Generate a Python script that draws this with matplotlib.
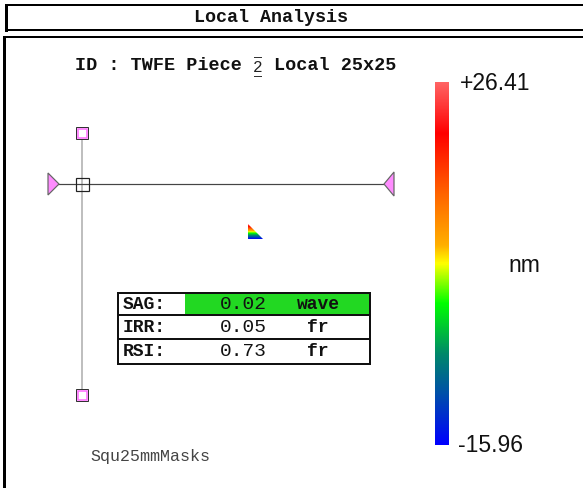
import numpy as np
import matplotlib
matplotlib.use("Agg")
import matplotlib.pyplot as plt
from matplotlib.patches import Rectangle, Polygon
from matplotlib.colors import LinearSegmentedColormap

# ---------------- data ----------------
panel_title = "Local Analysis"
id_prefix = "ID : TWFE Piece "
piece_number = "2"
id_suffix = " Local 25x25"
mask_name = "Squ25mmMasks"
metric_labels = ["SAG:", "IRR:", "RSI:"]
metric_values = [0.02, 0.05, 0.73]
metric_units = ["wave", "fr", "fr"]
highlight_row = 0
scale_max = 26.41
scale_min = -15.96
scale_unit = "nm"

# ---------------- figure ----------------
W, H = 583, 488
fig = plt.figure(figsize=(W / 100, H / 100), dpi=100)
ax = fig.add_axes([0, 0, 1, 1])
ax.set_xlim(0, W)
ax.set_ylim(H, 0)
ax.axis("off")

MONO = "Liberation Mono"
SANS = "Liberation Sans"
px = 0.72  # one pixel in points

# title box
ax.add_patch(Rectangle((6, 5), 600, 25, fill=False, ec="black", lw=2 * px))
ax.plot([6, 6], [5, 30], color="black", lw=3 * px)
ax.text(271, 18, panel_title, family=MONO, weight="bold", fontsize=13.2,
        ha="center", va="center", color="#111111")

# main box
ax.add_patch(Rectangle((4, 37), 600, 500, fill=False, ec="black", lw=2 * px))
ax.plot([4, 4], [37, 488], color="black", lw=3 * px)

# ID line
id_fs = 13.3
charw = 0.6 * id_fs * 100 / 72
x0 = 75
ax.text(x0, 66, id_prefix.rstrip(), family=MONO, weight="bold", fontsize=id_fs,
        ha="left", va="center", color="#111111")
xp = x0 + len(id_prefix) * charw
ax.text(xp + charw / 2, 67, piece_number, family=MONO, fontsize=11.5,
        ha="center", va="center", color="#222222")
ax.plot([xp + 2, xp + charw - 2], [57, 57], color="#333333", lw=1 * px)
ax.plot([xp + 2, xp + charw - 2], [76, 76], color="#333333", lw=1 * px)
xs = xp + (len(piece_number) + 1) * charw
ax.text(xs, 66, id_suffix.strip(), family=MONO, weight="bold", fontsize=id_fs,
        ha="left", va="center", color="#111111")

# cross-hair guides
vx, vy0, vy1 = 82, 133, 395
hy, hx0, hx1 = 184, 58, 386
ax.plot([vx, vx], [vy0, vy1], color="#aaaaaa", lw=1.5 * px, zorder=2)
ax.plot([hx0, hx1], [hy, hy], color="#444444", lw=1.2 * px, zorder=2)

def handle(cx, cy):
    ax.add_patch(Rectangle((cx - 6, cy - 6), 12, 12, fc="white", ec="#333333", lw=1 * px, zorder=3))
    ax.add_patch(Rectangle((cx - 4.5, cy - 4.5), 9, 9, fc="white", ec="#ff70ff", lw=1.6 * px, zorder=4))

handle(vx, vy0)
handle(vx, vy1)
ax.add_patch(Rectangle((vx - 6.5, hy - 6.5), 13, 13, fill=False, ec="#222222", lw=1.2 * px, zorder=4))

ax.add_patch(Polygon([(48, 173), (48, 195), (59, 184)], closed=True,
                     fc="#ff8cff", ec="#666666", lw=1.2 * px, zorder=4))
ax.add_patch(Polygon([(394, 172), (394, 196), (384, 184)], closed=True,
                     fc="#ff8cff", ec="#666666", lw=1.2 * px, zorder=4))

# colormap
cmap = LinearSegmentedColormap.from_list("scale", [
    (0.00, "#ff6464"), (0.14, "#ff0000"), (0.30, "#ff6000"), (0.45, "#ffb000"),
    (0.50, "#ffff00"), (0.61, "#00ff00"), (0.75, "#00886a"), (0.86, "#0050aa"),
    (1.00, "#0000ff")])
grad = np.linspace(scale_max, scale_min, 256).reshape(-1, 1)

# small colour triangle
tri = Polygon([(248, 224), (248, 239), (263, 239)], closed=True, fc="none", ec="none")
ax.add_patch(tri)
im_t = ax.imshow(grad, cmap=cmap.reversed(), vmin=scale_min, vmax=scale_max,
                 extent=(248, 263, 239, 224), aspect="auto", zorder=3)
im_t.set_clip_path(tri)

# metric table
tx0, tx1 = 118, 370
row_edges = [293, 315, 339, 364]
for i, (lab, val, unit) in enumerate(zip(metric_labels, metric_values, metric_units)):
    y0, y1 = row_edges[i], row_edges[i + 1]
    if i == highlight_row:
        ax.add_patch(Rectangle((185, y0), tx1 - 185, y1 - y0, fc="#22d822", ec="none", zorder=2))
    ax.add_patch(Rectangle((tx0, y0), tx1 - tx0, y1 - y0, fill=False, ec="#111111", lw=2 * px, zorder=3))
    yc = (y0 + y1) / 2 + 0.5
    ax.text(123, yc, lab, family=MONO, weight="bold", fontsize=13, ha="left", va="center", color="#111111", zorder=4)
    ax.text(243, yc, f"{val:.2f}", family=MONO, fontsize=14, ha="center", va="center", color="#111111", zorder=4)
    ax.text(318, yc, unit, family=MONO, weight="bold", fontsize=13, ha="center", va="center", color="#111111", zorder=4)

# mask name
ax.text(90, 457, mask_name, family=MONO, fontsize=12, ha="left", va="center", color="#444444")

# colour bar
cbx0, cbx1, cby0, cby1 = 435, 449, 82, 445
ax.imshow(grad, cmap=cmap.reversed(), vmin=scale_min, vmax=scale_max,
          extent=(cbx0, cbx1, cby1, cby0), aspect="auto", zorder=2)
ax.text(460, 84, f"+{scale_max:.2f}", family=SANS, fontsize=16.5, ha="left", va="center", color="#111111")
ax.text(458, 446, f"{scale_min:.2f}", family=SANS, fontsize=16.5, ha="left", va="center", color="#111111")
ax.text(524, 265, scale_unit, family=SANS, fontsize=16.5, ha="center", va="center", color="#111111")

ax.set_xlim(0, W)
ax.set_ylim(H, 0)
fig.savefig("out.png", dpi=100)
